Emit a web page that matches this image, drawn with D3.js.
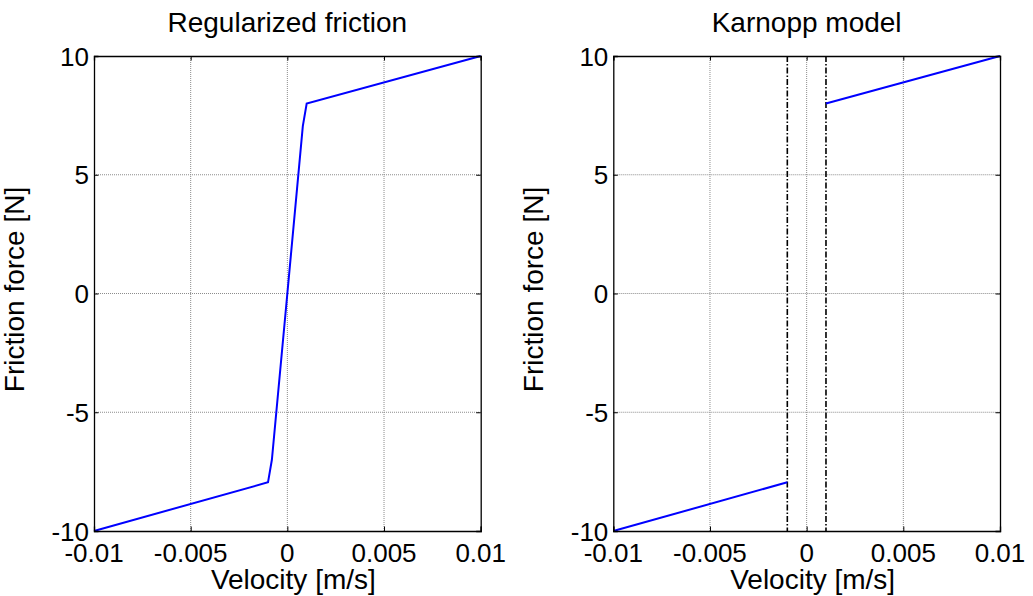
<!DOCTYPE html>
<html>
<head>
<meta charset="utf-8">
<script src="https://cdn.jsdelivr.net/npm/d3@7"></script>
<style>
  body { margin: 0; background: #fff; }
  text { font-family: "Liberation Sans", Arial, sans-serif; fill: #000; }
  .grid line { stroke: #8c8c8c; stroke-width: 1; stroke-dasharray: 1,1; }
</style>
</head>
<body>
<div class="content"></div>
<script>
// tick values
const xTicks = [-0.01, -0.005, 0, 0.005, 0.01];
const yTicks = [-10, -5, 0, 5, 10];
const xTickLabels = ["-0.01", "-0.005", "0", "0.005", "0.01"];
const yTickLabels = ["-10", "-5", "0", "5", "10"];

// regularized friction curve
const regVelocity = [-0.01, -0.001, -0.0008, 0, 0.0008, 0.001, 0.01];
const regForce = [-10, -7.95, -7.0, 0, 7.05, 8.0, 10];

// karnopp model branches
const karnoppNegVelocity = [-0.01, -0.001];
const karnoppNegForce = [-10, -7.95];
const karnoppPosVelocity = [0.001, 0.01];
const karnoppPosForce = [8, 10];
const karnoppBand = [-0.001, 0.001];

const panelTitles = ["Regularized friction", "Karnopp model"];

const W = 1033, H = 596;
const plotW = 386.7, plotH = 475;
const panelLeft = [94, 613.3];
const plotTop = 56;

const svg = d3.select(".content").append("svg")
  .attr("width", W).attr("height", H);

const toPts = (xs, ys) => xs.map((x, i) => [x, ys[i]]);

panelLeft.forEach((left, p) => {
  const xScale = d3.scaleLinear().domain([-0.01, 0.01]).range([0, plotW]);
  const yScale = d3.scaleLinear().domain([-10, 10]).range([plotH, 0]);

  const g = svg.append("g").attr("transform", `translate(${left}, ${plotTop})`);

  //--> grid
  const grid = g.append("g").attr("class", "grid");
  grid.selectAll(".vg").data(xTicks.slice(1, -1)).enter().append("line")
    .attr("x1", d => xScale(d)).attr("x2", d => xScale(d))
    .attr("y1", 0).attr("y2", plotH);
  grid.selectAll(".hg").data(yTicks.slice(1, -1)).enter().append("line")
    .attr("y1", d => yScale(d)).attr("y2", d => yScale(d))
    .attr("x1", 0).attr("x2", plotW);

  const line = d3.line().x(d => xScale(d[0])).y(d => yScale(d[1]));

  if (p === 0) {
    g.append("path")
      .attr("d", line(toPts(regVelocity, regForce)))
      .attr("fill", "none").attr("stroke", "#0000ff").attr("stroke-width", 2);
  } else {
    g.selectAll(".band").data(karnoppBand).enter().append("line")
      .attr("x1", d => xScale(d)).attr("x2", d => xScale(d))
      .attr("y1", 0).attr("y2", plotH)
      .attr("stroke", "#000").attr("stroke-width", 1.6)
      .attr("stroke-dasharray", "6,2,1.5,2");
    [[karnoppNegVelocity, karnoppNegForce], [karnoppPosVelocity, karnoppPosForce]]
      .forEach(([xs, ys]) => {
        g.append("path")
          .attr("d", line(toPts(xs, ys)))
          .attr("fill", "none").attr("stroke", "#0000ff").attr("stroke-width", 2);
      });
  }

  //--> axes (ticks inside, box on)
  const tl = 4.5;
  g.append("g").attr("transform", `translate(0, ${plotH})`)
    .call(d3.axisBottom(xScale).tickValues(xTicks).tickSize(-tl).tickFormat(""));
  g.append("g")
    .call(d3.axisTop(xScale).tickValues(xTicks).tickSize(-tl).tickFormat(""));
  g.append("g")
    .call(d3.axisLeft(yScale).tickValues(yTicks).tickSize(-tl).tickFormat(""));
  g.append("g").attr("transform", `translate(${plotW}, 0)`)
    .call(d3.axisRight(yScale).tickValues(yTicks).tickSize(-tl).tickFormat(""));
  g.selectAll(".domain").attr("stroke", "#000").attr("stroke-width", 1.3);
  g.selectAll(".tick line").attr("stroke", "#000");

  //--> tick labels
  g.selectAll(".xl").data(xTicks).enter().append("text")
    .attr("x", d => xScale(d)).attr("y", plotH + 31)
    .attr("text-anchor", "middle").attr("font-size", 26)
    .text((d, i) => xTickLabels[i]);
  g.selectAll(".yl").data(yTicks).enter().append("text")
    .attr("x", -5).attr("y", d => yScale(d) + 9.5)
    .attr("text-anchor", "end").attr("font-size", 26)
    .text((d, i) => yTickLabels[i]);

  //--> labels
  g.append("text")
    .attr("x", plotW / 2).attr("y", -24)
    .attr("text-anchor", "middle").attr("font-size", 28)
    .text(panelTitles[p]);
  g.append("text")
    .attr("x", plotW / 2 + 6).attr("y", plotH + 58)
    .attr("text-anchor", "middle").attr("font-size", 28)
    .text("Velocity [m/s]");
  g.append("text")
    .attr("transform", `translate(-70, ${plotH / 2 - 4}) rotate(-90)`)
    .attr("text-anchor", "middle").attr("font-size", 28)
    .text("Friction force [N]");
});
</script>
</body>
</html>
